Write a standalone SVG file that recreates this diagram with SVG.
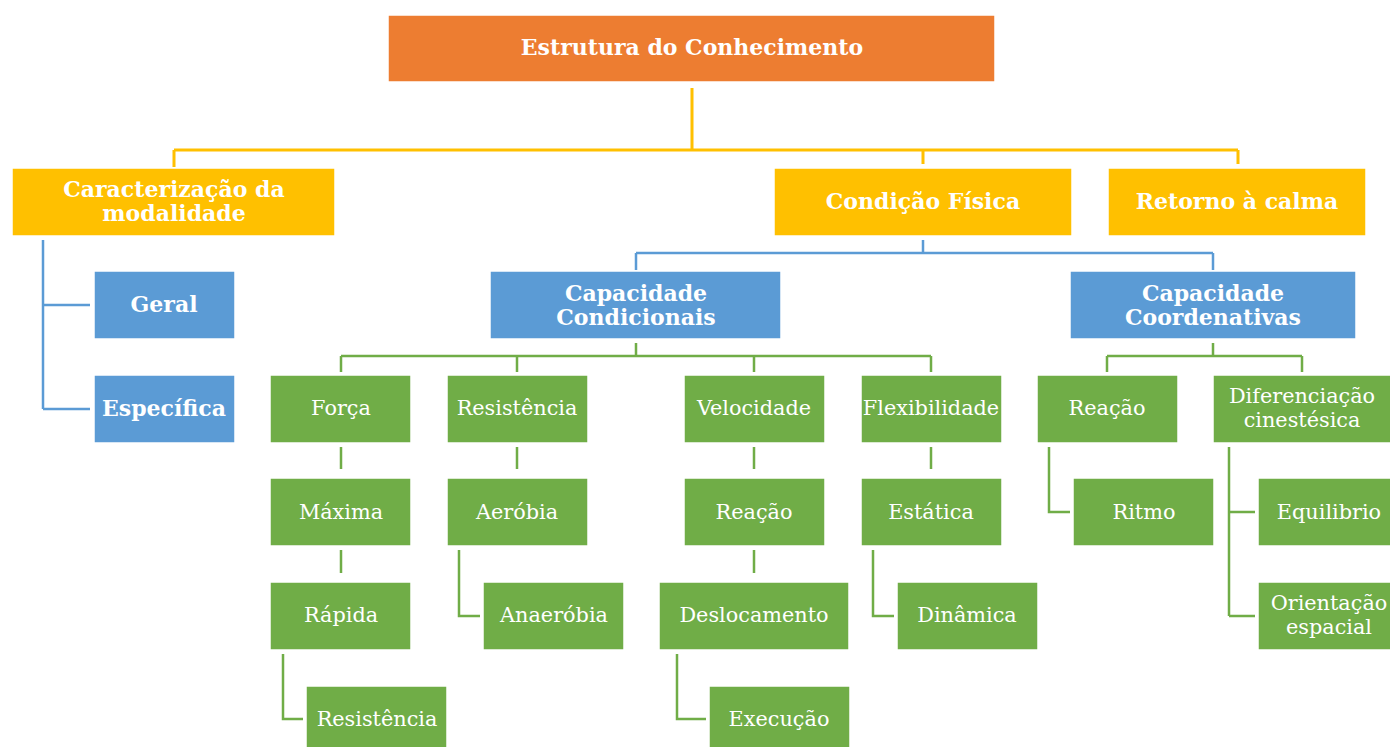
<svg xmlns="http://www.w3.org/2000/svg" width="1390" height="747" viewBox="0 0 1390 747">
<style>
rect{stroke:#ffffff;stroke-width:1.5}
.o{fill:#ED7D31}.y{fill:#FFC000}.b{fill:#5B9BD5}.g{fill:#70AD47}
text{font-family:"DejaVu Serif","Liberation Serif",serif;fill:#ffffff;text-anchor:middle;font-size:20.8px}
.bd{font-weight:bold;font-size:22px}
.cy{fill:none;stroke:#FFC000;stroke-width:3}
.cb{fill:none;stroke:#5B9BD5;stroke-width:2.5}
.cg{fill:none;stroke:#70AD47;stroke-width:2.5}
</style>
<rect width="1390" height="747" fill="#ffffff" stroke="none"/>
<g id="connectors">
<path class="cy" d="M692 88V150M174 150H1238M174 150V167M923 150V164M1238 150V164"/>
<path class="cb" d="M43 240V409M43 305H90M43 409H90"/>
<path class="cb" d="M923 240V253M636 253H1213M636 253V270M1213 253V270"/>
<path class="cg" d="M636 343V356M341 356H931M341 356V372M517 356V372M754 356V372M931 356V372"/>
<path class="cg" d="M1213 343V356M1107 356H1302M1107 356V372M1302 356V372"/>
<path class="cg" d="M341 447V469M517 447V469M754 447V469M931 447V469"/>
<path class="cg" d="M341 550V573M754 550V573"/>
<path class="cg" d="M459 550V616H480M873 550V616H894M283 654V719H303M677 654V719H706"/>
<path class="cg" d="M1049 447V512H1070M1229 447V616M1229 512H1255M1229 616H1255"/>
</g>
<g id="n-root"><rect class="o" x="388" y="15" width="607" height="67"/><text class="bd" x="692" y="55">Estrutura do Conhecimento</text></g>
<g id="n-caract"><rect class="y" x="12" y="168" width="323" height="68"/><text class="bd" x="174" y="197">Caracterização da</text><text class="bd" x="174" y="221">modalidade</text></g>
<g id="n-condicao"><rect class="y" x="774" y="168" width="298" height="68"/><text class="bd" x="923" y="209">Condição Física</text></g>
<g id="n-retorno"><rect class="y" x="1108" y="168" width="258" height="68"/><text class="bd" x="1237" y="209">Retorno à calma</text></g>
<g id="n-geral"><rect class="b" x="94" y="271" width="141" height="68"/><text class="bd" x="164" y="312">Geral</text></g>
<g id="n-especifica"><rect class="b" x="94" y="375" width="141" height="68"/><text class="bd" x="164" y="416">Específica</text></g>
<g id="n-condicionais"><rect class="b" x="490" y="271" width="291" height="68"/><text class="bd" x="636" y="301">Capacidade</text><text class="bd" x="636" y="325">Condicionais</text></g>
<g id="n-coordenativas"><rect class="b" x="1070" y="271" width="286" height="68"/><text class="bd" x="1213" y="301">Capacidade</text><text class="bd" x="1213" y="325">Coordenativas</text></g>
<g id="n-forca"><rect class="g" x="270" y="375" width="141" height="68"/><text x="341" y="415">Força</text></g>
<g id="n-resistencia"><rect class="g" x="447" y="375" width="141" height="68"/><text x="517" y="415">Resistência</text></g>
<g id="n-velocidade"><rect class="g" x="684" y="375" width="141" height="68"/><text x="754" y="415">Velocidade</text></g>
<g id="n-flexibilidade"><rect class="g" x="861" y="375" width="141" height="68"/><text x="931" y="415">Flexibilidade</text></g>
<g id="n-reacao1"><rect class="g" x="1037" y="375" width="141" height="68"/><text x="1107" y="415">Reação</text></g>
<g id="n-diferenciacao"><rect class="g" x="1213" y="375" width="178" height="68"/><text x="1302" y="403">Diferenciação</text><text x="1302" y="427">cinestésica</text></g>
<g id="n-maxima"><rect class="g" x="270" y="478" width="141" height="68"/><text x="341" y="519">Máxima</text></g>
<g id="n-aerobia"><rect class="g" x="447" y="478" width="141" height="68"/><text x="517" y="519">Aeróbia</text></g>
<g id="n-reacao2"><rect class="g" x="684" y="478" width="141" height="68"/><text x="754" y="519">Reação</text></g>
<g id="n-estatica"><rect class="g" x="861" y="478" width="141" height="68"/><text x="931" y="519">Estática</text></g>
<g id="n-ritmo"><rect class="g" x="1073" y="478" width="141" height="68"/><text x="1144" y="519">Ritmo</text></g>
<g id="n-equilibrio"><rect class="g" x="1258" y="478" width="134" height="68"/><text x="1329" y="519">Equilibrio</text></g>
<g id="n-rapida"><rect class="g" x="270" y="582" width="141" height="68"/><text x="341" y="622">Rápida</text></g>
<g id="n-anaerobia"><rect class="g" x="483" y="582" width="141" height="68"/><text x="554" y="622">Anaeróbia</text></g>
<g id="n-deslocamento"><rect class="g" x="659" y="582" width="190" height="68"/><text x="754" y="622">Deslocamento</text></g>
<g id="n-dinamica"><rect class="g" x="897" y="582" width="141" height="68"/><text x="967" y="622">Dinâmica</text></g>
<g id="n-orientacao"><rect class="g" x="1258" y="582" width="134" height="68"/><text x="1329" y="610">Orientação</text><text x="1329" y="634">espacial</text></g>
<g id="n-resistencia2"><rect class="g" x="306" y="686" width="141" height="68"/><text x="377" y="726">Resistência</text></g>
<g id="n-execucao"><rect class="g" x="709" y="686" width="141" height="68"/><text x="779" y="726">Execução</text></g>
</svg>
